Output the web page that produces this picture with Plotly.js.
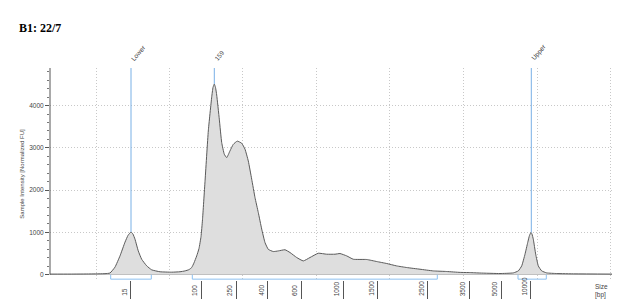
<!DOCTYPE html>
<html>
<head>
<meta charset="utf-8">
<script src="https://cdn.plot.ly/plotly-3.0.1.min.js"></script>
<style>html,body{margin:0;padding:0;background:#fff;}#chart{width:622px;height:307px;}</style>
</head>
<body>
<div id="chart"></div>
<script>
// Migration position (run units) and normalized fluorescence
const position = [0,20,40,55,60,65,70,75,78,81,83,85,88.3,91.7,96.7,101.7,110,121.7,130,135,139,141.7,144,146.7,149,151,152.5,155,158.3,161.7,163,164.3,165.5,166.7,169.3,171.7,174.3,176.7,180,183.3,187.3,191.7,195,198.3,201.7,205,208.3,211.7,215,218.3,223.3,228.3,235,240,246.7,253.3,260,268.3,276.7,285,290,296.7,303.3,316.7,326.7,336.7,346.7,356.7,370,383.3,396.7,410,420,430,450,463.3,468.3,471.7,475,477.7,479.5,481,482,483.3,485.7,488.3,491.7,496.7,506.7,525,562];
const intensity = [15,15,18,25,40,180,445,770,930,1010,960,840,560,365,210,115,70,60,70,90,120,170,280,445,620,900,1300,2200,3400,4200,4430,4510,4430,4250,3680,3125,2850,2770,2930,3085,3160,3110,2970,2690,2260,1825,1470,1080,760,600,548,563,590,525,407,326,407,508,485,485,501,445,366,360,312,265,208,170,130,90,76,55,50,40,28,43,90,208,485,760,930,1000,960,840,485,208,90,43,28,20,15];

// Size ladder ticks
const sizeLabels = ['15','100','250','400','600','1000','1500','2500','3500','5000','10000'];
const sizePositions = [80.3,151,186,217.7,251,293.3,327.7,377.7,419.3,451.3,480];
const gridPositions = [46,119,192,266,339,413,487,560];

// Peak markers
const peakNames = ['Lower','159','Upper'];
const peakPositions = [81,164.3,481.3];
const peakValues = [1010,4510,1000];

// Region brackets
const regionStart = [60.7,142.3,468];
const regionEnd = [101.3,387.3,496.3];

const yMax = 4890, yMin = -125, bracketY = -105;
const smallFont = {family:'Liberation Sans, Arial, sans-serif', size:6.5, color:'#444'};

const traces = [];
traces.push({
  x: position, y: intensity, type:'scatter', mode:'lines',
  line:{color:'#5a5a5a', width:1, shape:'spline', smoothing:0.4},
  fill:'tozeroy', fillcolor:'#dedede', hoverinfo:'skip', showlegend:false
});
peakPositions.forEach((p,i)=>{
  traces.push({x:[p,p], y:[peakValues[i], yMax], type:'scatter', mode:'lines',
    line:{color:'#78b0e6', width:1}, hoverinfo:'skip', showlegend:false});
});
regionStart.forEach((s,i)=>{
  const e = regionEnd[i];
  traces.push({x:[s,s,e,e], y:[0,bracketY,bracketY,0], type:'scatter', mode:'lines',
    line:{color:'#8cc0f0', width:1}, hoverinfo:'skip', showlegend:false, cliponaxis:false});
});

const annotations = [];
sizeLabels.forEach((t,i)=>{
  annotations.push({x:sizePositions[i], xref:'x', y:-18/212, yref:'paper', text:t,
    textangle:-90, xanchor:'right', yanchor:'bottom', xshift:-1, showarrow:false, font:smallFont});
});
peakNames.forEach((t,i)=>{
  annotations.push({x:peakPositions[i], xref:'x', y:1, yref:'paper', text:t,
    textangle:-50, xanchor:'left', yanchor:'bottom', xshift:-4, yshift:3, showarrow:false, font:smallFont});
});
annotations.push({x:601/622, xref:'paper', y:-1/212, yref:'paper', text:'Size<br>[bp]',
  xanchor:'left', yanchor:'top', align:'left', showarrow:false, font:smallFont});

const layout = {
  width:622, height:307,
  margin:{l:50, r:10, t:68, b:27},
  paper_bgcolor:'#fff', plot_bgcolor:'#fff',
  title:{text:'<b>B1: 22/7</b>', xref:'container', yref:'container', x:19/622, xanchor:'left',
    y:1-28/307, yanchor:'middle', font:{family:'Liberation Serif, Times New Roman, serif', size:12, color:'#000'}},
  xaxis:{range:[0,562], showline:false, zeroline:false, showgrid:false,
    tickmode:'array', tickvals:sizePositions, ticktext:sizeLabels.map(()=>''), showticklabels:false,
    ticks:'outside', ticklen:18, tickcolor:'#555', tickwidth:1,
    minor:{tickmode:'array', tickvals:gridPositions, showgrid:true, griddash:'1px,2px', gridcolor:'#c8c8c8', gridwidth:1, ticks:''}},
  yaxis:{range:[yMin,yMax], showline:false, zeroline:true, zerolinecolor:'#666', zerolinewidth:1.5,
    tickmode:'array', tickvals:[0,1000,2000,3000,4000], showgrid:true, griddash:'1px,2px', gridcolor:'#c8c8c8',
    ticks:'outside', ticklen:4, tickcolor:'#555', tickfont:smallFont,
    minor:{dtick:200, tick0:0, ticks:'outside', ticklen:2, tickcolor:'#777', showgrid:false},
    title:{text:'Sample Intensity [Normalized FU]', font:{family:'Liberation Sans, Arial, sans-serif', size:6, color:'#444'}, standoff:4}},
  shapes:[{type:'line', xref:'x domain', x0:0, x1:0, yref:'y', y0:0, y1:yMax, line:{color:'#555', width:1}}],
  annotations: annotations,
  showlegend:false
};
Plotly.newPlot('chart', traces, layout, {staticPlot:true, displayModeBar:false});
</script>
</body>
</html>
